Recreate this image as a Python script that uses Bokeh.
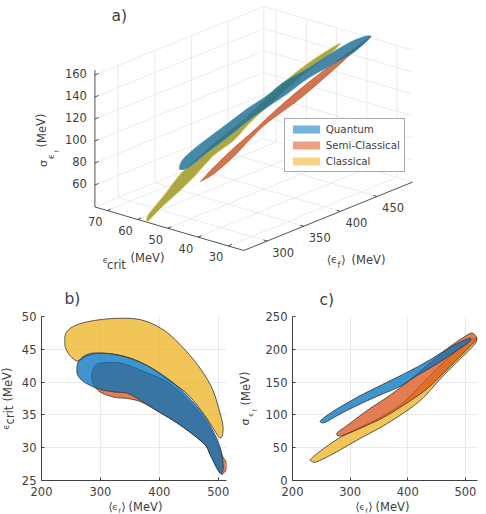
from bokeh.plotting import figure
from bokeh.layouts import column, row
from bokeh.models import Label, Legend, LegendItem, FixedTicker
from bokeh.embed import file_html
from bokeh.resources import INLINE

TXT = "#404040"
GRID = "#e9e9e9"
FONT = "DejaVu Sans"
BLUE, ORANGE, YELLOW = "#0072bd", "#d95319", "#edb120"

# ---------- panel a: outlines in (<eps_f>, eps_crit, sigma) ----------
a_q_f = [243.1,246.8,260.4,280.9,308.2,335.5,362.7,385.4,417.3,449.1,480.9,503.7,480.9,449.1,417.3,390,362.7,335.5,308.2,280.9,262.6,251.3]
a_q_c = [40]*22
a_q_s = [108.8,115.4,120.8,125.9,132.2,138.4,143.2,149.2,152.7,157.8,161.3,159,150.6,147.1,143.6,137.4,132.6,126.9,119.7,113.5,108.4,106.6]

a_y_f = [218.7,221.8,242.3,265.1,287.8,315.1,346.9,374.2,406,437.9,465.2,483.3,469.7,442.4,410.6,383.3,360.6,337.8,310.5,283.2,260.6,237.8,221.8]
a_y_c = [45]*23
a_y_s = [64.4,69.7,80.8,94.3,101.9,111.1,119,128.8,139.6,147.7,152.4,154.2,148.2,141.9,132.3,123,115.5,105,98.7,86.4,77.9,70.2,63.6]

a_o_f = [264.9,281.7,308.9,336.2,368.1,399.9,431.7,463.6,496.8,468.1,445.4,399.9,354.5,331.7,308.9,281.7,265.8]
a_o_c = [38]*17
a_o_s = [93.9,101.5,111.6,120.1,131.2,140.8,148.9,155.5,162.5,153.6,146,132.3,122.2,113.8,103.9,95.5,93.7]

a_f_ticks = [300,350,400,450]
a_c_ticks = [30,40,50,60,70]
a_s_ticks = [60,80,100,120,140,160]
a_f_lim = (268.2,498.6)
a_c_lim = (24.8,74.1)
a_s_lim = (40,164.5)

# ---------- panel b: <eps_f> vs eps_crit ----------
b_y_x = [239.6,241.2,252.5,278,323.2,368.4,407.9,441.8,470,489.8,501.1,507.9,506.8,501.1,492.7,475.7,447.5,413.6,379.7,345.8,306.2,278,262.2,249.7,241.2]
b_y_y = [46.1,47.4,48.4,49.2,49.7,49.5,47.9,45.1,42,39,35.9,33.4,31.8,31.6,32.8,35.1,38.2,40.4,42.5,43.8,44.4,44,43.2,43.9,45.1]
b_o_x = [285.3,289.3,300.6,334.5,374,413.6,447.5,475.7,492.7,506.8,513.6,513.6,508.5,504,487,475.7,436.2,396.6,368.4,345.8,323.2,299.4,288.1]
b_o_y = [41,42.3,42.9,42.9,41.6,40,37.4,34.4,31.8,28.8,27.8,26.7,26.1,26.1,28.8,30.6,33.4,35.6,37,37.5,37.7,38.5,39.7]
b_q_x = [259.9,263.8,280.8,306.2,340.1,379.7,419.2,447.5,475.7,492.7,504,508.5,505.1,498.3,487,475.7,436.2,396.6,368.4,345.8,323.2,299.4,278,263.8]
b_q_y = [41.8,43.3,44.3,44.4,43.9,42.5,40.2,37.9,34.9,32.3,29.8,27.2,26.1,26.7,28.8,30.6,33.4,35.6,37.2,38.3,38.5,38.9,39.7,40.7]

# ---------- panel c: <eps_f> vs sigma ----------
c_y_x = [231.8,242.3,277,317.5,358.1,398.6,427.5,456.5,485.4,514.4,520,514.4,491.2,456.5,427.5,392.8,358.1,317.5,278.2,245.2,231.8]
c_y_y = [30.1,28.6,43.9,64.2,83.6,106.5,126.8,154.8,180.3,205.7,215.9,215.9,203.2,175.2,149.7,119.2,98.8,81,63.2,42.8,32.7]
c_o_x = [278.2,294.4,329.1,363.9,398.6,433.3,468.1,497,511.5,520,514.4,491.2,462.3,433.3,398.6,358.1,317.5,288.6,278.2]
c_o_y = [73.4,83.6,106.5,126.8,149.7,175.2,200.6,218.4,224.6,216.9,209.8,189.4,164,139.6,118.2,96.3,79.5,69.3,68.3]
c_q_x = [248.1,253.8,277,317.5,363.9,404.4,439.1,473.9,506.9,505.7,485.4,450.7,416,387,352.3,317.5,282.8,256.7]
c_q_y = [89.7,95.3,109,129.4,149.7,167.5,184.3,203.2,216.9,210.8,198.1,177.7,159.9,143.6,130.4,116.6,101.4,88.6]

series_names = ["Quantum", "Semi-Classical", "Classical"]
x_ticks = [200,300,400,500]
b_y_ticks = [25,30,35,40,45,50]
c_y_ticks = [0,50,100,150,200,250]


# ---------- helpers ----------
def proj(f, c, s):
    """Oblique view of the 3-D box, onto the page pixels of panel a."""
    sx = 243.3 + 0.733*(f-a_f_lim[0]) - 3.02*(c-a_c_lim[0])
    sy = 250 - 0.297*(f-a_f_lim[0]) - 0.883*(c-a_c_lim[0]) - 1.10*(s-a_s_lim[0])
    return sx, sy

def proj_list(fs, cs, ss):
    pts = [proj(f, c, s) for f, c, s in zip(fs, cs, ss)]
    return [p[0] for p in pts], [p[1] for p in pts]

def seg(p, a, b, color, width=0.9):
    s0, s1 = proj(*a), proj(*b)
    p.line([s0[0], s1[0]], [s0[1], s1[1]], line_color=color, line_width=width)

def rounded(x, y, steps=6):
    """Round off a closed outline's corners when it is drawn (closed Catmull-Rom)."""
    n = len(x)
    ox, oy = [], []
    for i in range(n):
        x0, x1, x2, x3 = x[i-1], x[i], x[(i+1) % n], x[(i+2) % n]
        y0, y1, y2, y3 = y[i-1], y[i], y[(i+1) % n], y[(i+2) % n]
        for k in range(steps):
            t = k/steps
            b0 = -0.5*t**3 + t**2 - 0.5*t
            b1 = 1.5*t**3 - 2.5*t**2 + 1
            b2 = -1.5*t**3 + 2*t**2 + 0.5*t
            b3 = 0.5*t**3 - 0.5*t**2
            ox.append(b0*x0 + b1*x1 + b2*x2 + b3*x3)
            oy.append(b0*y0 + b1*y1 + b2*y2 + b3*y3)
    return ox, oy


# ---------- panel a ----------
pa = figure(width=486, height=285, x_range=(0,486), y_range=(285,0), toolbar_location=None,
            output_backend="svg", min_border=0, outline_line_color=None)
pa.axis.visible = False
pa.grid.visible = False

f0, f1 = a_f_lim; c0, c1 = a_c_lim; s0, s1 = a_s_lim
wall_top = a_s_ticks[-1]
for f in a_f_ticks:
    seg(pa, (f,c0,s0), (f,c1,s0), GRID)
    seg(pa, (f,c1,s0), (f,c1,wall_top), GRID)
for c in a_c_ticks:
    seg(pa, (f0,c,s0), (f1,c,s0), GRID)
    seg(pa, (f1,c,s0), (f1,c,wall_top), GRID)
for s in a_s_ticks:
    seg(pa, (f0,c1,s), (f1,c1,s), GRID)
    seg(pa, (f1,c1,s), (f1,c0,s), GRID)
seg(pa, (f1,c1,s0), (f1,c1,wall_top), GRID)
seg(pa, (f0,c1,s0), (f1,c1,s0), GRID)
seg(pa, (f1,c1,s0), (f1,c0,s0), GRID)

seg(pa, (f0,c1,s0), (f0,c1,s1), TXT)
seg(pa, (f0,c1,s0), (f0,c0,s0), TXT)
seg(pa, (f0,c0,s0), (f1,c0,s0), TXT)
for f in a_f_ticks:
    seg(pa, (f,c0,s0), (f,c0+1.2,s0), TXT)
for c in a_c_ticks:
    seg(pa, (f0,c,s0), (f0+5,c,s0), TXT)
for s in a_s_ticks:
    seg(pa, (f0,c1,s), (f0+5,c1,s), TXT)

xs, ys = rounded(*proj_list(a_o_f, a_o_c, a_o_s))
pa.patch(xs, ys, fill_color="#cf6d46", fill_alpha=0.95, line_color="#b9552f", line_width=0.7)
xs, ys = rounded(*proj_list(a_y_f, a_y_c, a_y_s))
pa.patch(xs, ys, fill_color="#a9a13c", fill_alpha=0.95, line_color="#d8d66c", line_width=0.9)
xs, ys = rounded(*proj_list(a_q_f, a_q_c, a_q_s))
pa.patch(xs, ys, fill_color="#1f6c94", fill_alpha=0.82, line_color="#3c90b8", line_width=0.7)

def ptext(p, x, y, text, size=11.5, angle=0, align="center", base="middle"):
    """Text placed by page pixels, relative to the figure p's frame origin."""
    ox, oy = p._page_origin
    p.add_layout(Label(x=x-ox, y=oy-y, x_units="screen", y_units="screen", text=text,
                       text_font=FONT, text_font_size=f"{size}px", text_color=TXT, angle=angle,
                       text_align=align, text_baseline=base))

pa._page_origin = (0, 285)
for s in a_s_ticks:
    sx, sy = proj(f0, c1, s)
    ptext(pa, sx-8, sy-1, str(s), align="right")
for c in a_c_ticks:
    sx, sy = proj(f0, c, s0)
    ptext(pa, sx-12, sy+11, str(c))
for f in a_f_ticks:
    sx, sy = proj(f, c0, s0)
    ptext(pa, sx+16, sy+11, str(f))

ptext(pa, 111, 15.5, "a)", size=15.5, align="left")
# sigma label
ptext(pa, 41, 130, "(MeV)", angle=1.5708)
ptext(pa, 43, 163, "σ", size=11, angle=1.5708)
ptext(pa, 51, 156, "ϵ", size=8, angle=1.5708)
ptext(pa, 56, 151, "f", size=6, angle=1.5708)
# eps_crit label
ptext(pa, 105, 259, "ϵ", size=9)
ptext(pa, 116, 264, "crit", size=11.5)
ptext(pa, 147, 257.5, "(MeV)", size=11.5)
# <eps_f> label
ptext(pa, 328.5, 259, "⟨", size=11.5)
ptext(pa, 333.5, 259, "ϵ", size=10)
ptext(pa, 338.5, 265, "f", size=8)
ptext(pa, 343, 259, "⟩", size=11.5)
ptext(pa, 368, 259, "(MeV)", size=11.5)

legend_colors = [BLUE, ORANGE, YELLOW]
items = []
nan = float("nan")
for name, col in zip(series_names, legend_colors):
    r = pa.patch([nan, nan, nan], [nan, nan, nan], fill_color=col, fill_alpha=0.55, line_color=None)
    items.append(LegendItem(label=name, renderers=[r]))
leg = Legend(items=items, location=(283.7, 112.7), orientation="vertical", margin=0, padding=4, spacing=4,
             glyph_width=34, glyph_height=10, label_height=10, label_width=70, label_standoff=3,
             label_text_font=FONT, label_text_font_size="10.3px", label_text_color=TXT,
             border_line_color="#555555", border_line_width=1, background_fill_alpha=1)
pa.add_layout(leg)


# ---------- panels b, c ----------
def panel(width, height, left, right, top, bottom, xr, yr, yticks):
    p = figure(width=width, height=height, x_range=xr, y_range=yr, toolbar_location=None,
               output_backend="svg", min_border_left=left, min_border_right=right,
               min_border_top=top, min_border_bottom=bottom, outline_line_color=None)
    p.xaxis.ticker = FixedTicker(ticks=x_ticks)
    p.yaxis.ticker = FixedTicker(ticks=yticks)
    p.xaxis.major_label_standoff = 6
    p.yaxis.major_label_standoff = 5
    for ax in (p.xaxis[0], p.yaxis[0]):
        ax.major_tick_in = 3
        ax.major_tick_out = 0
        ax.minor_tick_line_color = None
        ax.axis_line_color = TXT
        ax.major_tick_line_color = TXT
        ax.major_label_text_color = TXT
        ax.major_label_text_font = FONT
        ax.major_label_text_font_size = "11.5px"
    p.xgrid.grid_line_color = GRID
    p.ygrid.grid_line_color = GRID
    return p

EDGE = "#333333"
def blob(p, x, y, col):
    xs, ys = rounded(x, y)
    p.patch(xs, ys, fill_color=col, fill_alpha=0.75, line_color=EDGE, line_width=0.8)

pb = panel(233, 229, 41, 7, 31, 34, (200,514), (25,50), b_y_ticks)
blob(pb, b_y_x, b_y_y, YELLOW)
blob(pb, b_o_x, b_o_y, ORANGE)
blob(pb, b_q_x, b_q_y, BLUE)

pc = panel(253, 229, 59, 9, 31, 34, (200,521), (0,250), c_y_ticks)
blob(pc, c_y_x, c_y_y, YELLOW)
blob(pc, c_o_x, c_o_y, ORANGE)
blob(pc, c_q_x, c_q_y, BLUE)

# a transparent sheet over panels b and c carries their labels with subscripts
ov = figure(width=486, height=229, x_range=(0,486), y_range=(514,285), toolbar_location=None,
            output_backend="svg", min_border=0, outline_line_color=None,
            background_fill_color=None, border_fill_color=None, margin=(-229,0,0,0))
ov.axis.visible = False
ov.grid.visible = False
ov._page_origin = (0, 514)

ptext(ov, 64, 298, "b)", size=15.5, align="left")
ptext(ov, 110, 506.5, "⟨", size=11.5)
ptext(ov, 114.5, 506.5, "ϵ", size=9)
ptext(ov, 119, 510, "f", size=6)
ptext(ov, 123, 506.5, "⟩", size=11.5)
ptext(ov, 145, 506.5, "(MeV)", size=11.5)
ptext(ov, 7, 384, "(MeV)", angle=1.5708)
ptext(ov, 9, 414.5, "crit", size=11.5, angle=1.5708)
ptext(ov, 5, 426.5, "ϵ", size=9, angle=1.5708)

ptext(ov, 319, 299, "c)", size=15.5, align="left")
ptext(ov, 357, 506.5, "⟨", size=11.5)
ptext(ov, 361.5, 506.5, "ϵ", size=9)
ptext(ov, 366, 510, "f", size=6)
ptext(ov, 370, 506.5, "⟩", size=11.5)
ptext(ov, 392, 506.5, "(MeV)", size=11.5)
ptext(ov, 245, 388, "(MeV)", angle=1.5708)
ptext(ov, 245, 421.5, "σ", size=11, angle=1.5708)
ptext(ov, 250, 414, "ϵ", size=7, angle=1.5708)
ptext(ov, 254, 410, "f", size=6, angle=1.5708)

layout = column(pa, row(pb, pc, spacing=0), ov, spacing=0)
open("out.html", "w").write(file_html(layout, INLINE))
